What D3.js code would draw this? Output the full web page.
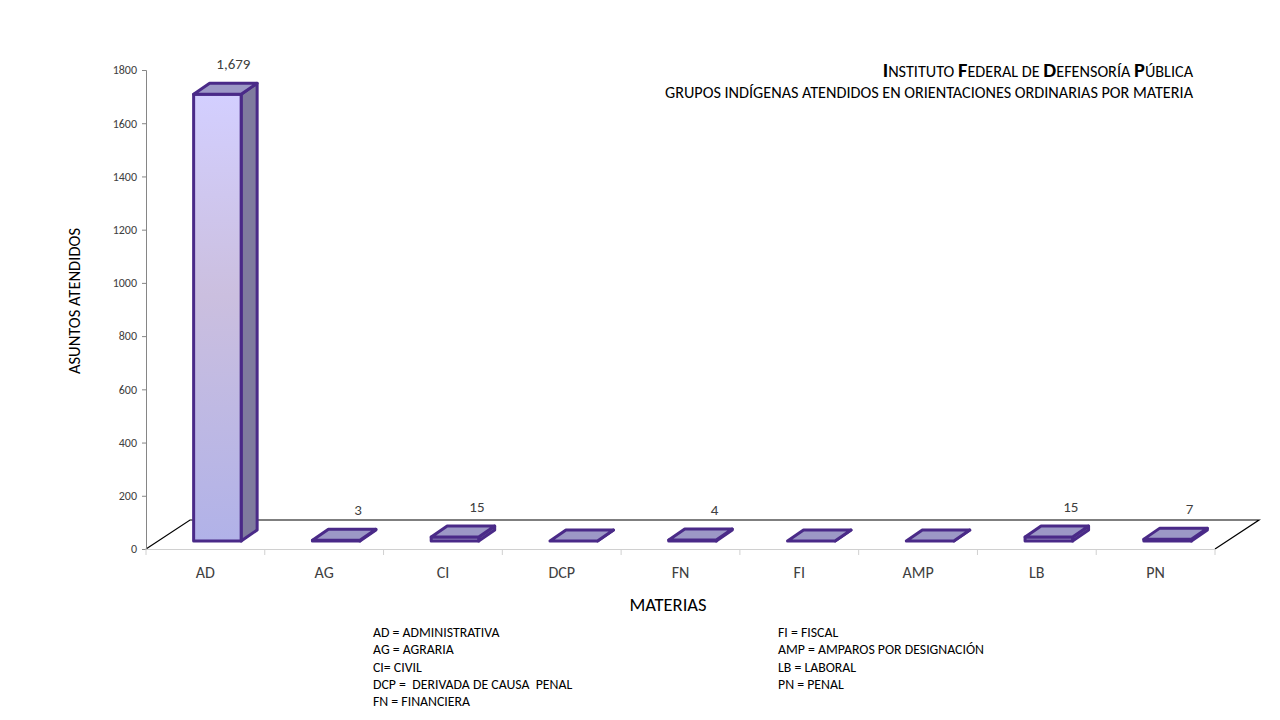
<!DOCTYPE html>
<html>
<head>
<meta charset="utf-8">
<script src="https://cdn.jsdelivr.net/npm/d3@7"></script>
<style>
  html, body { margin: 0; padding: 0; background: #fff; }
  svg { display: block; font-family: Carlito, Lato, "Open Sans", sans-serif; }
</style>
</head>
<body>
<svg id="chart" width="1280" height="720"></svg>
<script>
const categories = ["AD", "AG", "CI", "DCP", "FN", "FI", "AMP", "LB", "PN"];
const values = [1679, 3, 15, 0, 4, 0, 0, 15, 7];
const dataLabels = ["1,679", "3", "15", "", "4", "", "", "15", "7"];
const yTicks = [0, 200, 400, 600, 800, 1000, 1200, 1400, 1600, 1800];
const legendLeft = ["AD = ADMINISTRATIVA", "AG = AGRARIA", "CI= CIVIL", "DCP =  DERIVADA DE CAUSA  PENAL", "FN = FINANCIERA"];
const legendRight = ["FI = FISCAL", "AMP = AMPAROS POR DESIGNACIÓN", "LB = LABORAL", "PN = PENAL"];

const FONT = 'Carlito, Lato, "Open Sans", sans-serif';
const svg = d3.select("#chart");
const defs = svg.append("defs");
const grad = defs.append("linearGradient").attr("id", "frontGrad")
  .attr("x1", 0).attr("y1", 0).attr("x2", 0).attr("y2", 1);
grad.append("stop").attr("offset", "0%").attr("stop-color", "#d3cfff");
grad.append("stop").attr("offset", "45%").attr("stop-color", "#cbbfdf");
grad.append("stop").attr("offset", "100%").attr("stop-color", "#b1b2e8");

const left = 146, right = 1215, baseY = 549, topY = 70;
const depth = {dx: 44, dy: -29};
const front = {dx: 12, dy: -8};
const barD = {dx: 16, dy: -11};

const x = d3.scaleBand().domain(categories).range([left, right]).paddingInner(0).paddingOuter(0);
const y = d3.scaleLinear().domain([0, 1800]).range([baseY, topY]);

// Floor
svg.append("path")
  .attr("d", `M${left},${baseY} L${left + depth.dx},${baseY + depth.dy} L${right + depth.dx},${baseY + depth.dy} L${right},${baseY}`)
  .attr("fill", "none").attr("stroke", "#000").attr("stroke-width", 1.2);

// Y axis
const yAxis = d3.axisLeft(y).tickValues(yTicks).tickSize(4).tickPadding(5).tickFormat(d3.format("d"));
const ya = svg.append("g").attr("transform", `translate(${left},0)`).call(yAxis)
  .attr("font-family", FONT).attr("font-size", 12);
ya.select(".domain").attr("stroke", "#868686");
ya.selectAll(".tick line").attr("stroke", "#868686");
ya.selectAll(".tick text").attr("fill", "#404040");

// X axis
const xAxis = d3.axisBottom(x).tickSize(0).tickPadding(18);
const xa = svg.append("g").attr("transform", `translate(0,${baseY})`).call(xAxis)
  .attr("font-family", FONT).attr("font-size", 16);
xa.select(".domain").attr("stroke", "#d0d0d0").attr("stroke-width", 1.2);
xa.selectAll(".tick text").attr("fill", "#404040");
const bounds = categories.map(c => x(c)).concat([right]);
svg.append("g").selectAll("line").data(bounds).join("line")
  .attr("x1", d => d).attr("x2", d => d).attr("y1", baseY).attr("y2", baseY + 6)
  .attr("stroke", "#d0d0d0");

// Bars
const bw = x.bandwidth() * 0.4;
const stroke = "#4a2a88";
const bars = svg.append("g");
categories.forEach((c, i) => {
  const v = values[i];
  const cx = x(c) + x.bandwidth() / 2 + front.dx;
  const x0 = cx - bw / 2, x1 = cx + bw / 2;
  const yb = y(0) + front.dy;
  const yt = y(v) + front.dy;
  const bg = bars.append("g");
  bg.append("path")
    .attr("d", `M${x1},${yb} L${x1 + barD.dx},${yb + barD.dy} L${x1 + barD.dx},${yt + barD.dy} L${x1},${yt} Z`)
    .attr("fill", "#7f7b9e").attr("stroke", stroke).attr("stroke-width", 3).attr("stroke-linejoin", "round");
  bg.append("rect")
    .attr("x", x0).attr("y", yt).attr("width", bw).attr("height", Math.max(0, yb - yt))
    .attr("fill", v > 100 ? "url(#frontGrad)" : "#9e9ac6")
    .attr("stroke", stroke).attr("stroke-width", 3).attr("stroke-linejoin", "round");
  bg.append("path")
    .attr("d", `M${x0},${yt} L${x0 + barD.dx},${yt + barD.dy} L${x1 + barD.dx},${yt + barD.dy} L${x1},${yt} Z`)
    .attr("fill", "#9c98c6").attr("stroke", stroke).attr("stroke-width", 3).attr("stroke-linejoin", "round");
  if (dataLabels[i]) {
    bars.append("text")
      .attr("x", cx + (v > 100 ? 16 : 22))
      .attr("y", yt - 25)
      .attr("text-anchor", "middle")
      .attr("fill", "#404040")
      .style("font-size", "15px")
      .text(dataLabels[i]);
  }
});

// Axis titles
svg.append("text").attr("x", 668).attr("y", 611).attr("text-anchor", "middle")
  .attr("fill", "#000").style("font-size", "18.5px").text("MATERIAS");
svg.append("text").attr("transform", "translate(80,301) rotate(-90)").attr("text-anchor", "middle")
  .attr("fill", "#000").style("font-size", "16.5px").text("ASUNTOS ATENDIDOS");

// Title (small caps style)
const t1 = svg.append("text").attr("x", 1193).attr("y", 77).attr("text-anchor", "end").attr("fill", "#000");
const titleParts = [["I", true], ["NSTITUTO ", false], ["F", true], ["EDERAL DE ", false], ["D", true], ["EFENSORÍA ", false], ["P", true], ["ÚBLICA", false]];
titleParts.forEach(([s, big]) => {
  t1.append("tspan").text(s)
    .style("font-size", big ? "20.5px" : "16.2px")
    .style("font-weight", big ? "bold" : "normal");
});
svg.append("text").attr("x", 1193).attr("y", 98).attr("text-anchor", "end").attr("fill", "#000")
  .style("font-size", "16.2px").text("GRUPOS INDÍGENAS ATENDIDOS EN ORIENTACIONES ORDINARIAS POR MATERIA");

// Legend
svg.append("g").selectAll("text").data(legendLeft).join("text")
  .attr("x", 373).attr("y", (d, i) => 637 + i * 17.3)
  .attr("fill", "#000").style("font-size", "13.8px").attr("xml:space", "preserve").text(d => d);
svg.append("g").selectAll("text").data(legendRight).join("text")
  .attr("x", 778).attr("y", (d, i) => 637 + i * 17.3)
  .attr("fill", "#000").style("font-size", "13.8px").text(d => d);
</script>
</body>
</html>
